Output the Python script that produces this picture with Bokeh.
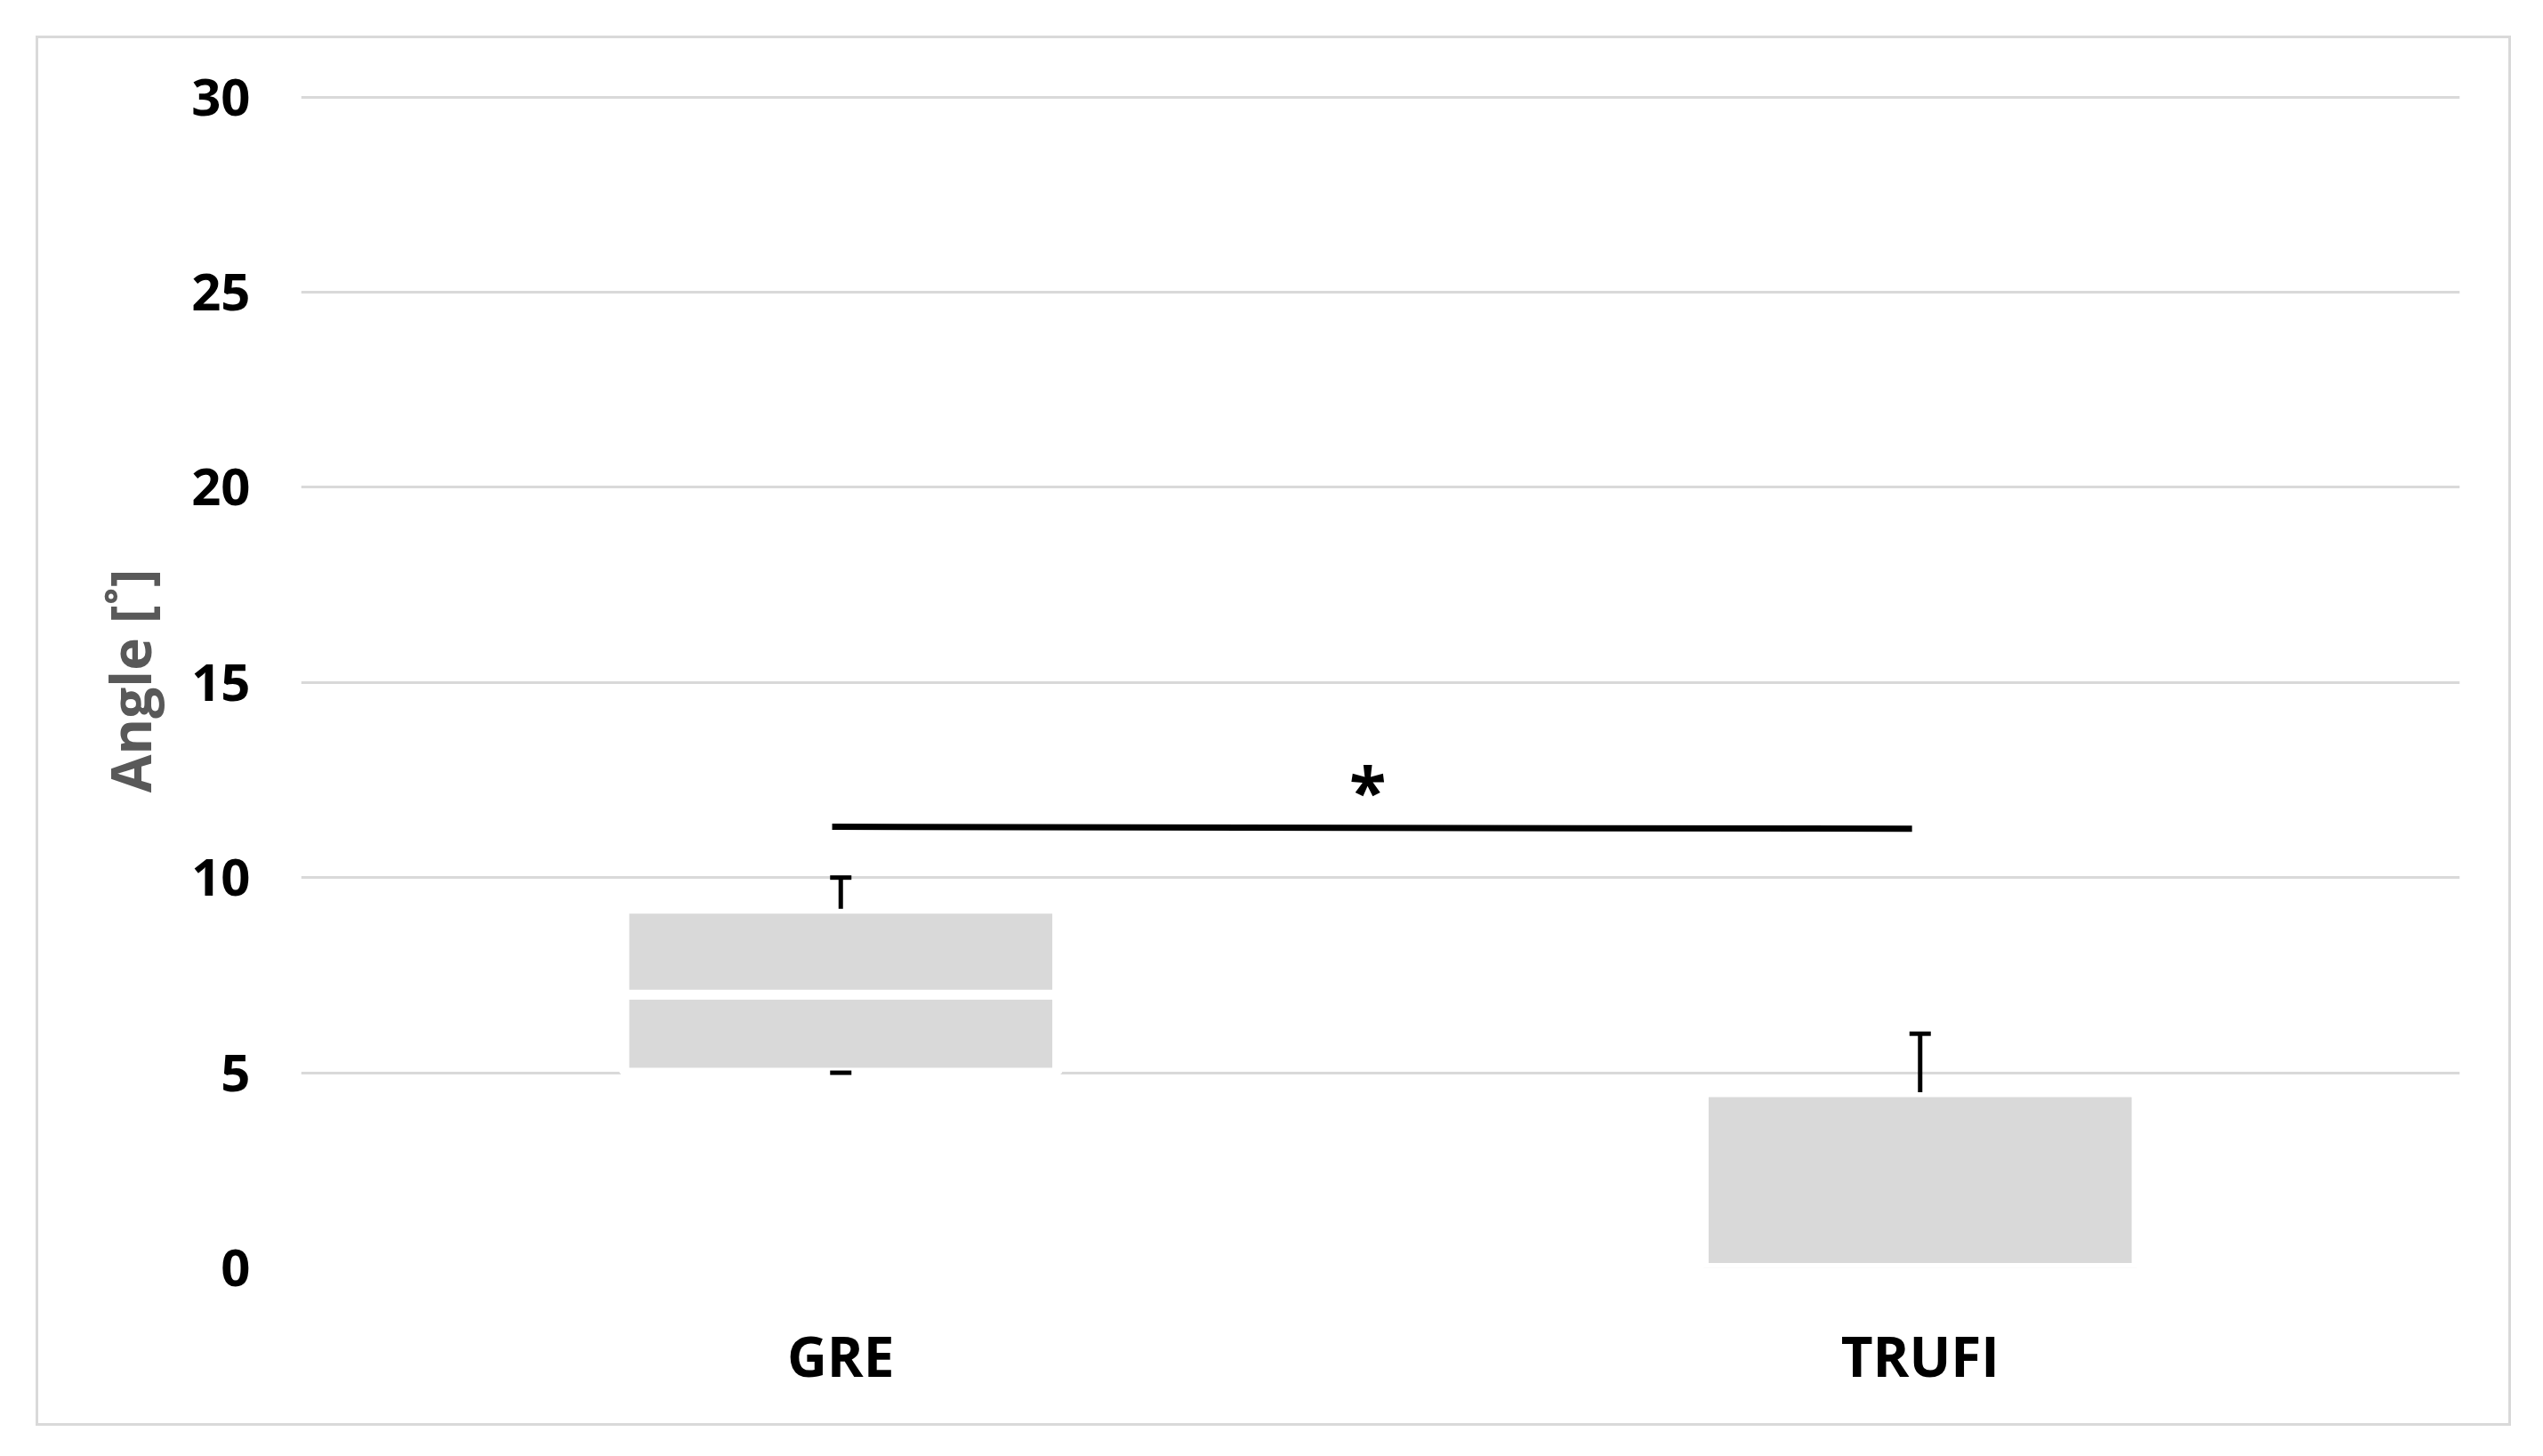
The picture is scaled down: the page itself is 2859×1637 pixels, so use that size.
from bokeh.plotting import figure
from bokeh.models import Range1d, FixedTicker, ColumnDataSource
from bokeh.core.properties import value
from bokeh.embed import file_html
from bokeh.resources import INLINE

# ---- data ----
categories = ["GRE", "TRUFI"]
mins = [5.0, 0.0]
q1 = [5.0, 0.0]
medians = [7.0, 0.0]
q3 = [9.2, 4.5]
maxs = [10.0, 6.0]
sig_y = [11.3, 11.25]
sig_label = "*"
y_ticks = [0, 5, 10, 15, 20, 25, 30]
y_label = "Angle [˚]"

FONT = "Open Sans"
GRID = "#d9d9d9"
BOX = "#d9d9d9"

p = figure(width=2777, height=1557, output_backend="svg", toolbar_location=None,
           x_range=Range1d(0, len(categories)), y_range=Range1d(0, 30.08),
           min_border_left=295, min_border_right=55, min_border_top=62, min_border_bottom=175)
p.margin = (43, 0, 0, 43)
p.styles = {"outline": "3px solid #d9d9d9"}
p.outline_line_color = None
p.background_fill_color = "white"
p.border_fill_color = "white"

xc = [i + 0.5 for i in range(len(categories))]

# grid
p.xgrid.grid_line_color = None
p.ygrid.grid_line_color = GRID
p.ygrid.grid_line_width = 3

# axes
p.yaxis.ticker = FixedTicker(ticks=y_ticks)
p.xaxis.ticker = FixedTicker(ticks=xc)
p.xaxis.major_label_overrides = {x: c for x, c in zip(xc, categories)}
for ax in (p.xaxis[0], p.yaxis[0]):
    ax.axis_line_color = None
    ax.major_tick_line_color = None
    ax.minor_tick_line_color = None
    ax.major_label_text_font = FONT
    ax.major_label_text_font_style = "bold"
    ax.major_label_text_color = "black"
p.yaxis.major_label_text_font_size = "58px"
p.xaxis.major_label_text_font_size = "62px"
p.yaxis.major_label_standoff = 51
p.xaxis.major_label_standoff = 50
p.yaxis.axis_label = y_label
p.yaxis.axis_label_text_font = FONT
p.yaxis.axis_label_text_font_style = "bold"
p.yaxis.axis_label_text_font_size = "62px"
p.yaxis.axis_label_text_color = "#595959"
p.yaxis.axis_label_standoff = 24

# boxes (two stacked segments each, white separators)
src = ColumnDataSource(dict(x=xc, q1=q1, med=medians, q3=q3, mn=mins, mx=maxs))
p.vbar(x="x", width=0.401, bottom="q1", top="med", source=src,
       fill_color=BOX, line_color="white", line_width=11)
p.vbar(x="x", width=0.401, bottom="med", top="q3", source=src,
       fill_color=BOX, line_color="white", line_width=11)

# upper whiskers
p.segment(x0="x", y0="q3", x1="x", y1="mx", source=src, line_color="black", line_width=5)
p.scatter(x="x", y="mx", source=src, marker="dash", size=24, line_color="black", line_width=5)
# lower whisker caps (only where visible, i.e. min above zero)
lo_x = [x for x, m in zip(xc, mins) if m > 0]
lo_y = [m for m in mins if m > 0]
p.scatter(lo_x, lo_y, marker="dash", size=24, line_color="black", line_width=5)

# significance bar
sx = [xc[0] - 0.008, xc[1] - 0.0075]
p.line(sx, sig_y, line_color="black", line_width=7)
p.text([sum(sx) / 2 - 0.004], [max(sig_y) + 0.97], text=[sig_label], text_align="center",
       text_baseline="alphabetic", text_font=value(FONT), text_font_style="bold",
       text_font_size="76px", text_color="black")

open("out.html", "w").write(file_html(p, INLINE))
